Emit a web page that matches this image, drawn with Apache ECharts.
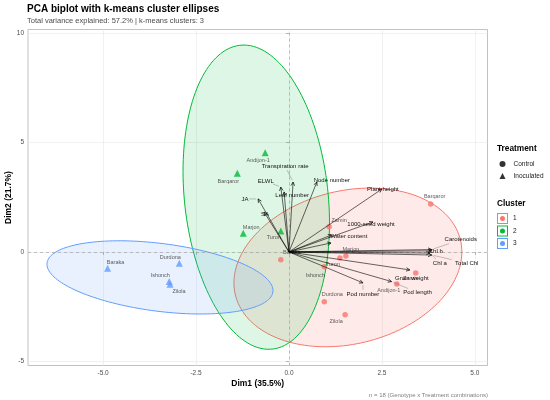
<!DOCTYPE html>
<html>
<head>
<meta charset="utf-8">
<script src="https://cdn.jsdelivr.net/npm/echarts@6/dist/echarts.min.js"></script>
<style>
html,body{margin:0;padding:0;background:#fff;}
#chart{width:550px;height:400px;}
</style>
</head>
<body>
<div id="chart"></div>
<script>
// individuals (genotype x treatment), coordinates on Dim1 / Dim2
const genotypes = ['Barqaror','Zamin','Marjon','Turon','Baraka','Ishonch','Durdona','Zilola','Andijon-1','Zamin',
                   'Andijon-1','Barqaror','Marjon','Turon',
                   'Baraka','Durdona','Ishonch','Zilola'];
const treatment = ['Control','Control','Control','Control','Control','Control','Control','Control','Control','Control',
                   'Inoculated','Inoculated','Inoculated','Inoculated',
                   'Inoculated','Inoculated','Inoculated','Inoculated'];
const cluster = [1,1,1,1,1,1,1,1,1,1, 2,2,2,2, 3,3,3,3];
const dim1 = [3.81,1.08,1.53,1.37,-0.22,0.95,0.95,1.51,2.90,3.41, -0.64,-1.39,-1.23,-0.22, -4.88,-2.95,-3.22,-3.20];
const dim2 = [2.19,1.15,-0.18,-0.27,-0.36,-0.68,-2.27,-2.86,-1.46,-0.96, 4.53,3.59,0.85,0.96, -0.74,-0.52,-1.35,-1.47];

// variable arrows (scaled loadings)
const varNames = ['ELWL','Leaf number','Transpiration rate','Node number','JA','SA','Plant height','1000-seed weight',
                  'Water content','','Carotenoids','Chl b','Chl a','Total Chl','Grain weight','Pod length','Pod number'];
const varDim1 = [-0.22,-0.13,0.11,0.75,-0.83,-0.67,2.50,2.26,1.15,1.13,3.84,3.84,3.79,3.84,3.25,2.76,1.99];
const varDim2 = [2.96,2.74,3.19,3.19,2.42,1.82,2.87,1.37,0.78,0.41,0.11,0.05,-0.05,-0.14,-0.82,-1.35,-1.41];

// cluster ellipses: centre, half width, half height, tilt (correlation)
const clusters = ['1','2','3'];
const ellCx = [1.585,-0.88,-3.47];
const ellCy = [-0.705,2.50,-1.16];
const ellWx = [3.065,1.97,3.04];
const ellWy = [3.62,6.94,1.67];
const ellR = [0.195,-0.17,-0.36];

const xTicks = [-5,-2.5,0,2.5,5];
const yTicks = [-5,0,5,10];

// label nudges in pixels (repel-style placement)
const pointLabelOffset = [[4,-7],[10,-6],[5,-6],[-7,7],[11,-7],[-9,9],[8,-7],[-9,7],[-8,7],[-5,5],
                          [-7,8],[-9,8],[8,-6],[-7,7],
                          [8,-6],[-9,-6],[-9,-6],[9,7]];
const varLabelOffset = [[-15,-6],[8,3],[-8,-16],[15,-2],[-13,0],[1,2],[1,0],[-2,2],[17,1],[0,0],
                        [29,-10],[4,0],[10,10],[35,8],[2,8],[26,11],[0,11]];

const colors = ['#F8766D','#00BA38','#619CFF'];
const fills = ['rgba(248,118,109,0.15)','rgba(0,186,56,0.13)','rgba(97,156,255,0.14)'];
const FONT = '"Liberation Sans", Arial, sans-serif';

let chart = echarts.init(document.getElementById('chart'));

let ctrlData = [], inocData = [];
genotypes.forEach(function (g, i) {
  let item = {
    name: g,
    value: [dim1[i], dim2[i]],
    itemStyle: {color: colors[cluster[i] - 1]},
    label: {offset: pointLabelOffset[i]}
  };
  if (treatment[i] === 'Control') ctrlData.push(item); else inocData.push(item);
});

function ellipseSeries(k) {
  return {
    name: clusters[k],
    type: 'custom',
    z: 1,
    silent: true,
    itemStyle: {color: colors[k]},
    data: [[ellCx[k], ellCy[k], ellWx[k], ellWy[k], ellR[k]]],
    renderItem: function (params, api) {
      let cx = api.value(0), cy = api.value(1), wx = api.value(2), wy = api.value(3), r = api.value(4);
      let s = Math.sqrt(1 - r * r);
      let pts = [];
      for (let j = 0; j < 160; j++) {
        let t = j / 160 * 2 * Math.PI;
        pts.push(api.coord([cx + wx * Math.cos(t), cy + wy * (r * Math.cos(t) + s * Math.sin(t))]));
      }
      return {type: 'polygon', shape: {points: pts}, style: {fill: fills[k], stroke: colors[k], lineWidth: 1}};
    }
  };
}

let arrowSeries = {
  name: 'variables',
  type: 'custom',
  z: 5,
  silent: true,
  data: varNames.map(function (n, i) { return [varDim1[i], varDim2[i]]; }),
  renderItem: function (params, api) {
    let i = params.dataIndex;
    let o = api.coord([0, 0]);
    let p = api.coord([api.value(0), api.value(1)]);
    let ang = Math.atan2(p[1] - o[1], p[0] - o[0]);
    let h = 4, a = 0.45;
    let head = [[p[0] - h * Math.cos(ang - a), p[1] - h * Math.sin(ang - a)], p,
                [p[0] - h * Math.cos(ang + a), p[1] - h * Math.sin(ang + a)]];
    let off = varLabelOffset[i];
    let lx = p[0] + off[0], ly = p[1] + off[1];
    let children = [
      {type: 'line', shape: {x1: o[0], y1: o[1], x2: p[0], y2: p[1]}, style: {stroke: '#000', lineWidth: 0.6}},
      {type: 'polyline', shape: {points: head}, style: {stroke: '#000', lineWidth: 0.7, fill: null}},
      {type: 'text', z2: 10, style: {text: varNames[i], x: lx, y: ly, fill: '#111',
        fontSize: 6, fontFamily: FONT, align: 'center', verticalAlign: 'middle'}}
    ];
    // repel-style leader segment from the label box edge towards the arrow tip
    let dx = -off[0], dy = -off[1];
    let dist = Math.sqrt(dx * dx + dy * dy);
    if (varNames[i] && dist > 8) {
      let hw = varNames[i].length * 1.55 + 1, hh = 4;
      let t = Math.min(dx ? hw / Math.abs(dx) : 99, dy ? hh / Math.abs(dy) : 99);
      let sx = lx + dx * t, sy = ly + dy * t;
      let ex = p[0] - dx / dist * 2, ey = p[1] - dy / dist * 2;
      if (t < 1 && Math.hypot(ex - sx, ey - sy) > 2.5) {
        children.push({type: 'line', shape: {x1: sx, y1: sy, x2: ex, y2: ey},
          style: {stroke: '#666', lineWidth: 0.4}});
      }
    }
    return {type: 'group', children: children};
  }
};

let pointLabel = {
  show: true, position: 'inside', formatter: '{b}', fontSize: 5.5, fontFamily: FONT, color: '#333'
};

let option = {
  animation: false,
  textStyle: {fontFamily: FONT},
  title: [
    {text: 'PCA biplot with k-means cluster ellipses', left: 27, top: 4, padding: 0,
      textStyle: {fontSize: 10, fontWeight: 'bold', color: '#000', fontFamily: FONT}},
    {text: 'Total variance explained: 57.2% | k-means clusters: 3', left: 27, top: 17, padding: 0,
      textStyle: {fontSize: 7.5, fontWeight: 'normal', color: '#4d4d4d', fontFamily: FONT}},
    {text: 'n = 18 (Genotype x Treatment combinations)', right: 62, top: 392, padding: 0,
      textStyle: {fontSize: 6, fontWeight: 'normal', color: '#808080', fontFamily: FONT}},
    {text: 'Treatment', left: 497, top: 145, padding: 0,
      textStyle: {fontSize: 8.3, fontWeight: 'bold', color: '#000', fontFamily: FONT}},
    {text: 'Cluster', left: 497, top: 199.5, padding: 0,
      textStyle: {fontSize: 8.3, fontWeight: 'bold', color: '#000', fontFamily: FONT}}
  ],
  legend: [
    {
      data: [{name: 'Control', icon: 'circle', itemStyle: {color: '#000'}},
             {name: 'Inoculated', icon: 'triangle', itemStyle: {color: '#000'}}],
      orient: 'vertical', left: 499.5, top: 160.5, padding: 0,
      itemWidth: 6, itemHeight: 6, itemGap: 5, selectedMode: false,
      textStyle: {fontSize: 6.5, color: '#1a1a1a', fontFamily: FONT, padding: [0, 0, 0, 3]}
    },
    {
      data: clusters.map(function (c, k) { return {name: c, itemStyle: {color: colors[k], borderWidth: 0}}; }),
      icon: 'path://M0,0H11V11H0Z M1,1V10H10V1Z M5.5,3A2.5,2.5,0,1,1,5.5,8A2.5,2.5,0,1,1,5.5,3Z',
      orient: 'vertical', left: 497, top: 213, padding: 0,
      itemWidth: 11, itemHeight: 11, itemGap: 1.5, selectedMode: false,
      textStyle: {fontSize: 6.5, color: '#1a1a1a', fontFamily: FONT}
    }
  ],
  grid: {left: 28, right: 62.5, top: 29.5, bottom: 34.5, outerBoundsMode: 'none', containLabel: false,
    show: true, borderColor: '#b3b3b3', borderWidth: 0.8},
  xAxis: {
    type: 'value', min: -7.02, max: 5.34,
    axisLine: {show: false},
    axisTick: {show: true, length: 3, customValues: xTicks, lineStyle: {color: '#b3b3b3'}},
    axisLabel: {customValues: xTicks, formatter: function (v) { return v.toFixed(1); },
      fontSize: 6.5, color: '#4d4d4d', margin: 4},
    splitLine: {show: true, lineStyle: {color: '#ebebeb', width: 0.7}},
    name: 'Dim1 (35.5%)', nameLocation: 'middle', nameGap: 14, nameMoveOverlap: false,
    nameTextStyle: {fontSize: 8.5, fontWeight: 'bold', color: '#000', fontFamily: FONT}
  },
  yAxis: {
    type: 'value', min: -5.18, max: 10.15,
    axisLine: {show: false},
    axisTick: {show: true, length: 3, customValues: yTicks, lineStyle: {color: '#b3b3b3'}},
    axisLabel: {customValues: yTicks, formatter: function (v) { return String(v); },
      fontSize: 6.5, color: '#4d4d4d', margin: 4},
    splitLine: {show: true, lineStyle: {color: '#ebebeb', width: 0.7}},
    name: 'Dim2 (21.7%)', nameLocation: 'middle', nameGap: 15, nameMoveOverlap: false,
    nameTextStyle: {fontSize: 8.5, fontWeight: 'bold', color: '#000', fontFamily: FONT}
  },
  series: [
    {
      name: 'zero', type: 'scatter', data: [], z: 0, silent: true,
      markLine: {silent: true, symbol: 'none', label: {show: false},
        lineStyle: {type: [3, 3], color: '#9a9a9a', width: 0.6},
        data: [{xAxis: 0}, {yAxis: 0}]}
    },
    ellipseSeries(0), ellipseSeries(1), ellipseSeries(2),
    {name: 'Control', type: 'scatter', z: 3, symbol: 'circle', symbolSize: 5.5, data: ctrlData, label: pointLabel},
    {name: 'Inoculated', type: 'scatter', z: 3, symbol: 'triangle', symbolSize: 7, data: inocData, label: pointLabel},
    arrowSeries
  ]
};

chart.setOption(option);
window.addEventListener('resize', function () {
  chart.resize();
});
</script>
</body>
</html>
